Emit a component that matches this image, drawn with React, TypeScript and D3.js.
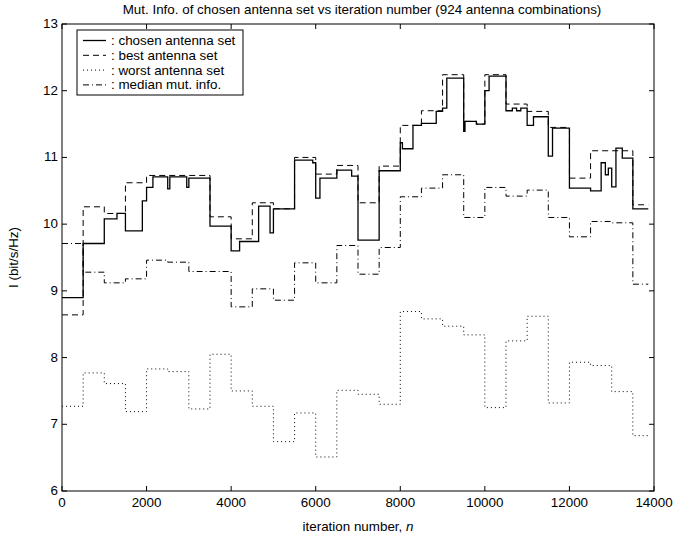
import React from "react";
import * as d3 from "d3";

const TITLE = "Mut. Info. of chosen antenna set vs iteration number (924 antenna combinations)";
const X_LABEL = "iteration number,  ";
const X_LABEL_VAR = "n";
const Y_LABEL = "I (bit/s/Hz)";
const X_TICKS = [0, 2000, 4000, 6000, 8000, 10000, 12000, 14000];
const Y_TICKS = [6, 7, 8, 9, 10, 11, 12, 13];
const END_N = 13865;

const LEGEND = [": chosen antenna set", ": best antenna set", ": worst antenna set", ": median mut. info."];

const chosenN = [0, 500, 1000, 1300, 1500, 1900, 2000, 2150, 2500, 2550, 2950, 3000, 3500, 4000, 4200, 4650, 4920, 5000, 5500, 5930, 6000, 6100, 6500, 6850, 7000, 7500, 8000, 8050, 8300, 8500, 8850, 9000, 9100, 9500, 9530, 9800, 10000, 10100, 10500, 10650, 10750, 10850, 11000, 11150, 11500, 11600, 12000, 12500, 12750, 12850, 12920, 13000, 13100, 13250, 13500];
const chosenV = [8.9, 9.71, 10.08, 10.16, 9.9, 10.35, 10.55, 10.71, 10.53, 10.71, 10.55, 10.69, 9.97, 9.6, 9.74, 10.27, 9.87, 10.23, 10.96, 10.92, 10.39, 10.69, 10.81, 10.72, 9.76, 10.8, 11.22, 11.13, 11.48, 11.51, 11.69, 11.74, 12.19, 11.39, 11.54, 11.5, 12.0, 12.22, 11.7, 11.74, 11.7, 11.74, 11.48, 11.61, 11.02, 11.44, 10.54, 10.5, 10.92, 10.74, 10.84, 10.56, 11.14, 10.99, 10.23];

const bestN = [0, 500, 1000, 1500, 2000, 3500, 4000, 4500, 5000, 5500, 6000, 6500, 7000, 7500, 8000, 8500, 9000, 9500, 9800, 10000, 10500, 11000, 11500, 12000, 12500, 13500];
const bestV = [8.64, 10.26, 10.16, 10.62, 10.73, 10.11, 9.78, 10.32, 10.23, 11.0, 10.75, 10.88, 10.32, 10.87, 11.48, 11.7, 12.24, 11.54, 11.5, 12.24, 11.8, 11.69, 11.45, 10.69, 11.1, 10.29];

const worstN = [0, 500, 1000, 1500, 2000, 2500, 3000, 3500, 4000, 4500, 5000, 5500, 6000, 6500, 7000, 7500, 8000, 8500, 9000, 9500, 10000, 10500, 11000, 11500, 12000, 12500, 13000, 13500];
const worstV = [7.27, 7.77, 7.61, 7.19, 7.83, 7.79, 7.23, 8.05, 7.5, 7.27, 6.74, 7.17, 6.51, 7.51, 7.45, 7.3, 8.69, 8.58, 8.47, 8.34, 7.25, 8.25, 8.62, 7.32, 7.93, 7.88, 7.49, 6.83];

const medianN = [0, 500, 1000, 1500, 2000, 2500, 3000, 4000, 4500, 5000, 5500, 6000, 6500, 7000, 7500, 8000, 8500, 9000, 9500, 10000, 10500, 11000, 11500, 12000, 12500, 13000, 13500];
const medianV = [9.71, 9.28, 9.12, 9.18, 9.46, 9.43, 9.29, 8.76, 9.03, 8.86, 9.42, 9.12, 9.68, 9.25, 9.65, 10.41, 10.54, 10.74, 10.1, 10.55, 10.42, 10.51, 10.1, 9.81, 10.04, 10.02, 9.1];

const W = 698, H = 540;
const M = { left: 62, right: 654, top: 24, bottom: 491 };

const FONT = "'Liberation Sans', Arial, Helvetica, sans-serif";
const FS = 13.4;

function toPoints(ns: number[], vs: number[]): [number, number][] {
  const pts: [number, number][] = ns.map((n, i) => [n, vs[i]]);
  pts.push([END_N, vs[vs.length - 1]]);
  return pts;
}

export default function App() {
  const x = d3.scaleLinear().domain([0, 14000]).range([M.left, M.right]);
  const y = d3.scaleLinear().domain([6, 13]).range([M.bottom, M.top]);
  const line = d3
    .line<[number, number]>()
    .x((d) => x(d[0]))
    .y((d) => y(d[1]))
    .curve(d3.curveStepAfter);

  const series = [
    { pts: toPoints(worstN, worstV), dash: "1,3", w: 1 },
    { pts: toPoints(medianN, medianV), dash: "6,3,1,3", w: 1 },
    { pts: toPoints(bestN, bestV), dash: "6,4", w: 1 },
    { pts: toPoints(chosenN, chosenV), dash: null as string | null, w: 1.3 },
  ];
  const legendStyles = [
    { dash: null as string | null, w: 1.3 },
    { dash: "6,4", w: 1 },
    { dash: "1,3", w: 1 },
    { dash: "6,3,1,3", w: 1 },
  ];
  const tick = 5;

  return (
    <svg width={W} height={H} style={{ position: "absolute", left: 0, top: 0, background: "#fff" }} fontFamily={FONT}>
      <rect x={0} y={0} width={W} height={H} fill="#fff" />
      <text x={362} y={14} fontSize={FS} textAnchor="middle" fill="#000">
        {TITLE}
      </text>
      {series.map((s, i) => (
        <path
          key={i}
          d={line(s.pts) || ""}
          fill="none"
          stroke="#000"
          strokeWidth={s.w}
          strokeDasharray={s.dash || undefined}
        />
      ))}
      <rect
        x={M.left}
        y={M.top}
        width={M.right - M.left}
        height={M.bottom - M.top}
        fill="none"
        stroke="#000"
        strokeWidth={1}
      />
      {X_TICKS.map((t) => (
        <g key={"x" + t}>
          <line x1={x(t)} x2={x(t)} y1={M.bottom} y2={M.bottom - tick} stroke="#000" />
          <line x1={x(t)} x2={x(t)} y1={M.top} y2={M.top + tick} stroke="#000" />
          <text x={x(t)} y={M.bottom + 16} fontSize={FS} textAnchor="middle" fill="#000">
            {t}
          </text>
        </g>
      ))}
      {Y_TICKS.map((t) => (
        <g key={"y" + t}>
          <line x1={M.left} x2={M.left + tick} y1={y(t)} y2={y(t)} stroke="#000" />
          <line x1={M.right} x2={M.right - tick} y1={y(t)} y2={y(t)} stroke="#000" />
          <text x={M.left - 4} y={y(t) + 4} fontSize={FS} textAnchor="end" fill="#000">
            {t}
          </text>
        </g>
      ))}
      <text x={(M.left + M.right) / 2} y={531} fontSize={FS} textAnchor="middle" fill="#000">
        {X_LABEL}
        <tspan fontStyle="italic">{X_LABEL_VAR}</tspan>
      </text>
      <text
        transform={`translate(18,${(M.top + M.bottom) / 2}) rotate(-90)`}
        fontSize={FS}
        textAnchor="middle"
        fill="#000"
      >
        {Y_LABEL}
      </text>
      <g>
        <rect x={77} y={30} width={166} height={65} fill="#fff" stroke="#000" strokeWidth={1} />
        {LEGEND.map((label, i) => {
          const cy = 40.5 + i * 14.8;
          const st = legendStyles[i];
          return (
            <g key={label}>
              <line
                x1={83}
                x2={106}
                y1={cy}
                y2={cy}
                stroke="#000"
                strokeWidth={st.w}
                strokeDasharray={st.dash || undefined}
              />
              <text x={111} y={cy + 4.5} fontSize={FS} fill="#000">
                {label}
              </text>
            </g>
          );
        })}
      </g>
    </svg>
  );
}
